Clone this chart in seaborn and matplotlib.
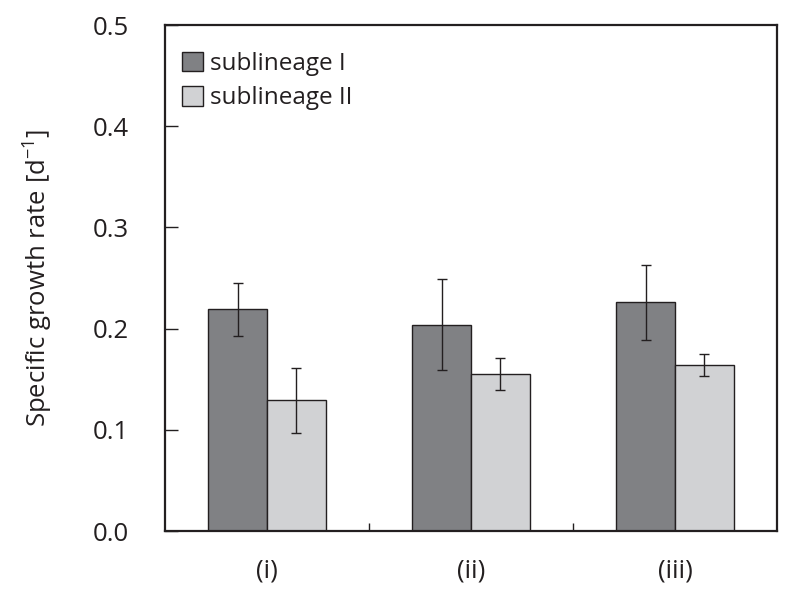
import numpy as np
import pandas as pd
import matplotlib
matplotlib.use("Agg")
import matplotlib.pyplot as plt
import seaborn as sns

# Data
conditions = ["(i)", "(ii)", "(iii)"]
series = ["sublineage I", "sublineage II"]
rate_I = [0.219, 0.204, 0.226]
rate_II = [0.129, 0.155, 0.164]
err_I = [0.026, 0.045, 0.037]
err_II = [0.032, 0.016, 0.011]

colors = ["#808184", "#d1d2d4"]
ink = "#231f20"

df = pd.DataFrame({
    "condition": conditions * 2,
    "sublineage": [series[0]] * 3 + [series[1]] * 3,
    "rate": rate_I + rate_II,
})

sns.set_style("white")
plt.rcParams["font.family"] = ["Open Sans", "DejaVu Sans"]

fig = plt.figure(figsize=(7.94, 5.98), dpi=100)
ax = fig.add_axes([0.2078, 0.112, 0.771, 0.846])

sns.barplot(data=df, x="condition", y="rate", hue="sublineage",
            palette=colors, width=0.575, gap=0, edgecolor=ink,
            linewidth=1.0, saturation=1, errorbar=None, ax=ax)

# error bars on top of each bar, using the bar geometry from seaborn
errs = err_I + err_II
for patch, e in zip(ax.patches[:6], errs):
    xc = patch.get_x() + patch.get_width() / 2
    ax.errorbar(xc, patch.get_height(), yerr=e, fmt="none",
                ecolor=ink, elinewidth=1.0, capsize=3.5, capthick=1.0)

ax.set_ylim(0, 0.5)
ax.set_xlim(-0.5, 2.5)
ax.set_yticks(np.arange(0, 0.51, 0.1))
ax.set_yticklabels([f"{v:.1f}" for v in np.arange(0, 0.51, 0.1)])
ax.set_xlabel("")
ax.set_ylabel("Specific growth rate [d$^{\\mathregular{-1}}$]", fontsize=18.5,
              color=ink, labelpad=28)

ax.tick_params(axis="y", direction="in", length=9, width=1.0, color=ink,
               labelsize=18.5, labelcolor=ink, pad=26, left=True)
ax.tick_params(axis="x", which="major", length=0, labelsize=18.5,
               labelcolor=ink, pad=20)
ax.set_xticks([0.5, 1.5], minor=True)
ax.tick_params(axis="x", which="minor", direction="in", length=6,
               width=1.0, color=ink, bottom=True)

for s in ax.spines.values():
    s.set_visible(True)
    s.set_color(ink)
    s.set_linewidth(1.6)

leg = ax.legend(loc="upper left", bbox_to_anchor=(-0.008, 0.99), frameon=False,
                fontsize=17.5, handlelength=0.85, handleheight=0.85,
                handletextpad=0.3, labelspacing=0.42, borderaxespad=0.5)
for t in leg.get_texts():
    t.set_color(ink)

fig.savefig("out.png", dpi=100)
